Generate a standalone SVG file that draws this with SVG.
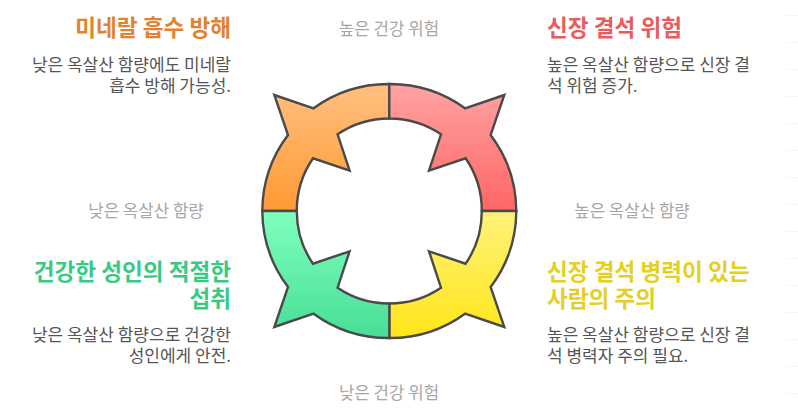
<svg xmlns="http://www.w3.org/2000/svg" width="798" height="420" viewBox="0 0 798 420">
<style>
text{font-family:"Noto Sans CJK KR","Noto Sans",sans-serif}
.t{font-size:22.6px;font-weight:700}
.d{font-size:17px;fill:#555}
.a{font-size:16.8px;fill:#a6a6a6}
.e{text-anchor:end}
.s{stroke:#4a4a4a;stroke-width:2.4;stroke-linejoin:miter}
.m{stroke:#f5f5f5;stroke-width:1}
</style>
<defs>
<linearGradient id="gO" x1="0" y1="0" x2="0" y2="1"><stop offset="0" stop-color="#ffc080"/><stop offset="1" stop-color="#ff9933"/></linearGradient>
<linearGradient id="gR" x1="0" y1="0" x2="0" y2="1"><stop offset="0" stop-color="#ffa3a3"/><stop offset="1" stop-color="#ff6666"/></linearGradient>
<linearGradient id="gY" x1="0" y1="0" x2="0" y2="1"><stop offset="0" stop-color="#fff27a"/><stop offset="1" stop-color="#ffe619"/></linearGradient>
<linearGradient id="gG" x1="0" y1="0" x2="0" y2="1"><stop offset="0" stop-color="#80ffbf"/><stop offset="1" stop-color="#47de96"/></linearGradient>
</defs>
<rect width="798" height="420" fill="#fff"/>
<g id="edge-marks" class="m">
<path d="M787 15.5H798M787 42.5H798M787 69.5H798M787 96.5H798M787 123.5H798M787 150.5H798M787 177.5H798M787 204.5H798M787 231.5H798M787 258.5H798M787 285.5H798M787 312.5H798M787 339.5H798M787 366.5H798M787 393.5H798"/>
</g>
<g id="ring" transform="translate(0.3 0)">
<path id="seg-orange" class="s" fill="url(#gO)" d="M389 84A127 127 0 0 0 313.3 108.3L274 95L287.7 135A127 127 0 0 0 262 211L296.5 211A92.5 92.5 0 0 1 312.7 158.3L349.3 170.7L337.3 134.3A92.5 92.5 0 0 1 389 118.5Z"/>
<path id="seg-red" class="s" fill="url(#gR)" d="M389 84A127 127 0 0 1 464.7 108.3L504 95L490.3 135A127 127 0 0 1 516 211L481.5 211A92.5 92.5 0 0 0 465.3 158.3L428.7 170.7L440.7 134.3A92.5 92.5 0 0 0 389 118.5Z"/>
<path id="seg-yellow" class="s" fill="url(#gY)" d="M389 338A127 127 0 0 0 464.7 313.7L504 327L490.3 287A127 127 0 0 0 516 211L481.5 211A92.5 92.5 0 0 1 465.3 263.7L428.7 251.3L440.7 287.7A92.5 92.5 0 0 1 389 303.5Z"/>
<path id="seg-green" class="s" fill="url(#gG)" d="M389 338A127 127 0 0 1 313.3 313.7L274 327L287.7 287A127 127 0 0 1 262 211L296.5 211A92.5 92.5 0 0 0 312.7 263.7L349.3 251.3L337.3 287.7A92.5 92.5 0 0 0 389 303.5Z"/>
</g>
<g id="axis-labels">
<text class="a" x="389" y="35" text-anchor="middle">높은 건강 위험</text>
<text class="a" x="389" y="399" text-anchor="middle">낮은 건강 위험</text>
<text class="a" x="146" y="217" text-anchor="middle">낮은 옥살산 함량</text>
<text class="a" x="632" y="217" text-anchor="middle">높은 옥살산 함량</text>
</g>
<g id="node-absorption">
<text class="t e" x="231" y="36" fill="#e08430">미네랄 흡수 방해</text>
<text class="d e" x="231" y="71">낮은 옥살산 함량에도 미네랄</text>
<text class="d e" x="231" y="92">흡수 방해 가능성.</text>
</g>
<g id="node-kidney">
<text class="t" x="547" y="36" fill="#e85c5c">신장 결석 위험</text>
<text class="d" x="547" y="71">높은 옥살산 함량으로 신장 결</text>
<text class="d" x="547" y="92">석 위험 증가.</text>
</g>
<g id="node-healthy">
<text class="t e" x="231" y="280" fill="#38c985">건강한 성인의 적절한</text>
<text class="t e" x="231" y="307" fill="#38c985">섭취</text>
<text class="d e" x="231" y="341">낮은 옥살산 함량으로 건강한</text>
<text class="d e" x="231" y="362">성인에게 안전.</text>
</g>
<g id="node-caution">
<text class="t" x="547" y="280" fill="#e5cf1f">신장 결석 병력이 있는</text>
<text class="t" x="547" y="307" fill="#e5cf1f">사람의 주의</text>
<text class="d" x="547" y="341">높은 옥살산 함량으로 신장 결</text>
<text class="d" x="547" y="362">석 병력자 주의 필요.</text>
</g>
</svg>
